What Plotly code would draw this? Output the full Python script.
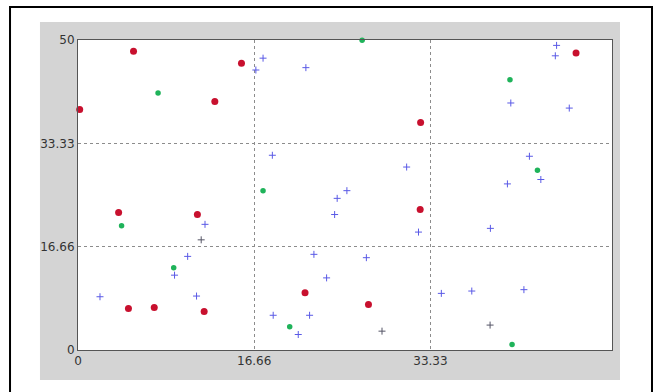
import plotly.graph_objects as go

# Red circles
red_x = [0.16, 5.25, 15.46, 12.94, 32.4, 3.84, 11.29, 32.36, 4.77, 7.21, 11.93, 21.47, 27.47, 47.1]
red_y = [38.8, 48.2, 46.25, 40.1, 36.7, 22.17, 21.85, 22.66, 6.68, 6.85, 6.2, 9.24, 7.34, 47.9]

# Green dots
green_x = [7.57, 26.87, 4.12, 9.05, 17.5, 20.02, 40.85, 43.45, 41.05]
green_y = [41.47, 49.95, 20.05, 13.26, 25.7, 3.75, 43.6, 29.0, 0.87]

# Blue crosses
blue_x = [16.82, 17.5, 21.55, 18.38, 31.08, 25.43, 24.51, 24.27, 32.2, 12.01, 10.37, 9.13,
          2.08, 11.21, 22.31, 27.27, 23.51, 18.46, 21.9, 20.83, 34.36, 37.24, 42.17, 40.93,
          46.46, 45.26, 45.14, 42.69, 43.77, 40.61, 39.0]
blue_y = [45.16, 47.07, 45.54, 31.41, 29.51, 25.7, 24.46, 21.85, 19.02, 20.27, 15.1, 12.07,
          8.59, 8.7, 15.43, 14.89, 11.63, 5.6, 5.6, 2.5, 9.13, 9.51, 9.73, 39.84,
          39.02, 49.13, 47.45, 31.25, 27.5, 26.79, 19.62]

# Dark crosses
dark_x = [11.65, 28.75, 38.97]
dark_y = [17.77, 3.04, 4.02]

tick_vals = [0, 16.66, 33.33, 50]
tick_text = ["0", "16.66", "33.33", "50"]

fig = go.Figure()
fig.add_trace(go.Scatter(x=blue_x, y=blue_y, mode="markers", cliponaxis=False,
                         marker=dict(symbol="cross-thin", size=5,
                                     line=dict(color="#5a5ae6", width=1))))
fig.add_trace(go.Scatter(x=dark_x, y=dark_y, mode="markers", cliponaxis=False,
                         marker=dict(symbol="cross-thin", size=5,
                                     line=dict(color="#555566", width=1))))
fig.add_trace(go.Scatter(x=red_x, y=red_y, mode="markers", cliponaxis=False,
                         marker=dict(symbol="circle", size=7, color="#c8102e")))
fig.add_trace(go.Scatter(x=green_x, y=green_y, mode="markers", cliponaxis=False,
                         marker=dict(symbol="circle", size=5.5, color="#1fb35a")))

# Decorative frame: black border and gray panel (paper coords relative to plot area)
fig.add_shape(type="rect", xref="paper", yref="paper", x0=-0.1273, x1=1.0749,
              y0=-0.2, y1=1.1065, line=dict(color="black", width=2),
              fillcolor="white", layer="below")
fig.add_shape(type="rect", xref="paper", yref="paper", x0=-0.0712, x1=1.015,
              y0=-0.0968, y1=1.058, line=dict(width=0),
              fillcolor="#d4d4d4", layer="below")
fig.add_shape(type="rect", xref="paper", yref="paper", x0=0, x1=1,
              y0=0, y1=1, line=dict(width=0),
              fillcolor="white", layer="below")

axis_common = dict(showline=True, mirror=True, linecolor="#555555", linewidth=1,
                   showgrid=True, gridcolor="#8c8c8c", griddash="dot", gridwidth=1,
                   zeroline=False, ticks="", tickfont=dict(family="DejaVu Sans", size=12, color="#333333"))

fig.update_layout(
    width=661, height=392,
    margin=dict(l=78, r=49, t=40, b=42),
    paper_bgcolor="white", plot_bgcolor="rgba(0,0,0,0)",
    showlegend=False,
    xaxis=dict(range=[0, 50.5], tickvals=tick_vals[:3], ticktext=tick_text[:3], **axis_common),
    yaxis=dict(range=[0, 50], tickvals=tick_vals, ticktext=tick_text, **axis_common),
)

fig.write_html("out.html")
